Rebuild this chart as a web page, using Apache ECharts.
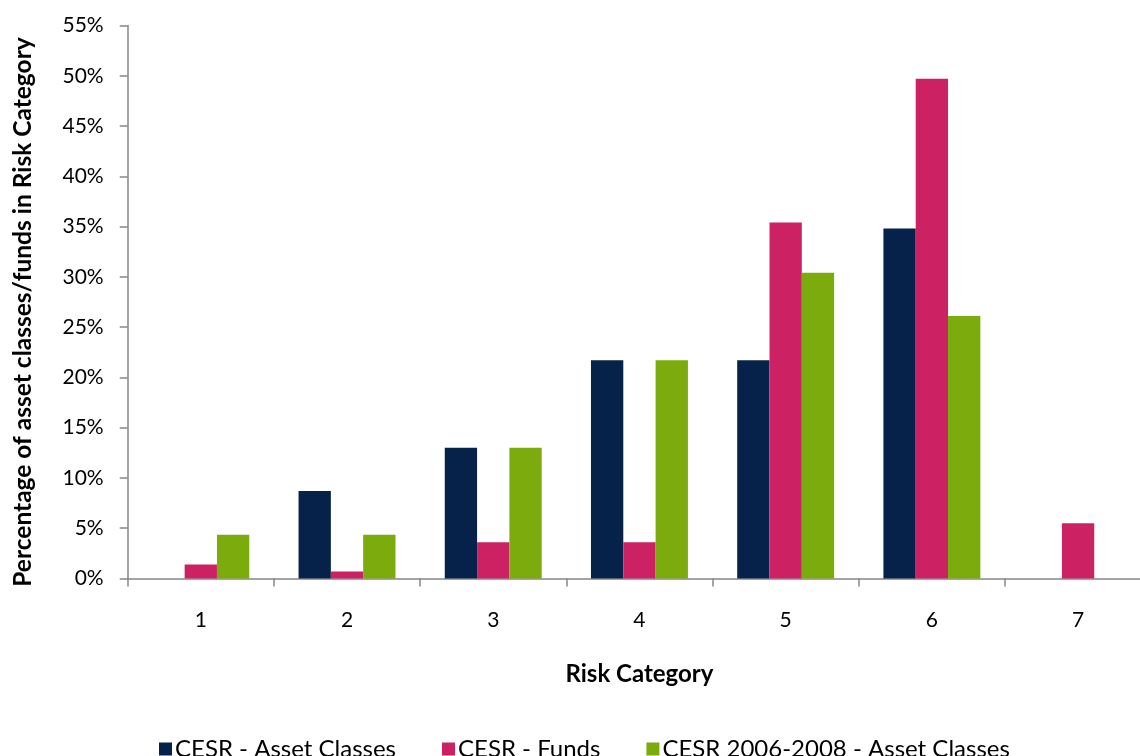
<!DOCTYPE html>
<html>
<head>
<meta charset="utf-8">
<script src="https://cdn.jsdelivr.net/npm/echarts@6/dist/echarts.min.js"></script>
<style>
html,body{margin:0;padding:0;background:#fff;}
#chart{width:1140px;height:756px;}
</style>
</head>
<body>
<div id="chart"></div>
<script>
const categories = ['1', '2', '3', '4', '5', '6', '7'];
const seriesNames = ['CESR - Asset Classes', 'CESR - Funds', 'CESR 2006-2008 - Asset Classes'];
const assetClasses = [0, 8.7, 13.0, 21.7, 21.7, 34.8, 0];
const funds = [1.4, 0.7, 3.6, 3.6, 35.4, 49.7, 5.5];
const assetClasses0608 = [4.35, 4.35, 13.0, 21.7, 30.4, 26.1, 0];
const yTicks = { min: 0, max: 55, interval: 5 };
const colors = ['#06224A', '#CC2264', '#7BAB0C'];

const FONT = 'Lato, "Open Sans", sans-serif';
const axisGray = '#868686';
const chart = echarts.init(document.getElementById('chart'));
const seriesData = [assetClasses, funds, assetClasses0608];

chart.setOption({
  animation: false,
  backgroundColor: '#fff',
  textStyle: { fontFamily: FONT },
  grid: { left: 127.7, top: 25.5, height: 553, width: 1023.5, containLabel: false, outerBoundsMode: 'none' },
  legend: {
    left: 154, top: 732,
    itemWidth: 13, itemHeight: 13, itemGap: 46,
    icon: 'rect',
    textStyle: { fontSize: 24, color: '#000', fontFamily: FONT, padding: [0, 0, 0, -2] },
    data: seriesNames
  },
  xAxis: {
    type: 'category',
    data: categories,
    name: 'Risk Category',
    nameLocation: 'middle',
    nameGap: 84,
    nameTextStyle: { fontSize: 24, fontWeight: 'bold', color: '#000', fontFamily: FONT },
    axisLine: { lineStyle: { color: axisGray, width: 1.5 } },
    axisTick: { show: true, length: 8, inside: false, alignWithLabel: false, lineStyle: { color: axisGray, width: 1.5 } },
    axisLabel: { fontSize: 21, color: '#000', margin: 31, fontFamily: FONT }
  },
  yAxis: {
    type: 'value',
    min: yTicks.min, max: yTicks.max, interval: yTicks.interval,
    name: 'Percentage of asset classes/funds in Risk Category',
    nameLocation: 'middle',
    nameGap: 92,
    nameRotate: 90,
    nameTextStyle: { fontSize: 24.5, fontWeight: 'bold', color: '#000', fontFamily: FONT, padding: [0, 20, 0, 0] },
    splitLine: { show: false },
    axisLine: { show: true, lineStyle: { color: axisGray, width: 1.5 } },
    axisTick: { show: true, length: 8, lineStyle: { color: axisGray, width: 1.5 } },
    axisLabel: { fontSize: 21, color: '#000', margin: 24, formatter: '{value}%', fontFamily: FONT }
  },
  series: seriesNames.map((name, i) => ({
    name: name,
    type: 'bar',
    data: seriesData[i],
    barGap: '0%',
    barCategoryGap: '33.7%',
    itemStyle: { color: colors[i] }
  }))
});
</script>
</body>
</html>
